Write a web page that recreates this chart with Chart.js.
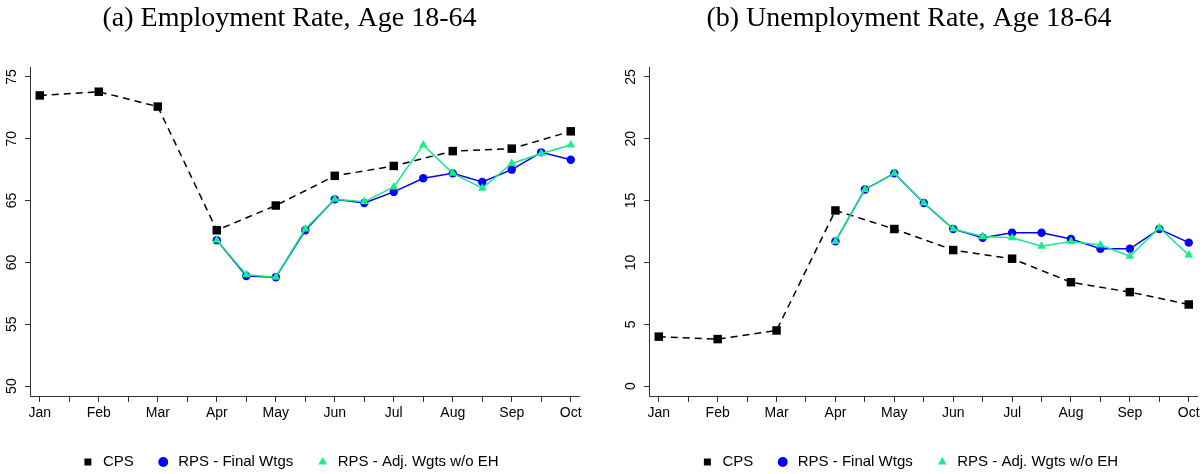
<!DOCTYPE html>
<html lang="en">
<head>
    <meta charset="UTF-8">
    <title>Employment and Unemployment Rate, Age 18-64</title>
    <style>
        body {
            margin: 0;
            background: #fff;
        }

        .panel {
            position: absolute;
            top: 0;
            height: 474px;
        }

        #left { left: 0; width: 600px; }
        #right { left: 619px; width: 584px; }
    </style>
    <script src="https://cdn.jsdelivr.net/npm/chart.js"></script>
</head>
<body>
    <div class="panel" id="left"><canvas id="empChart"></canvas></div>
    <div class="panel" id="right"><canvas id="unempChart"></canvas></div>

    <script>
        // months on the x axis (1 = Jan ... 10 = Oct)
        const months = ['Jan', 'Feb', 'Mar', 'Apr', 'May', 'Jun', 'Jul', 'Aug', 'Sep', 'Oct'];
        const cpsX = [1, 2, 3, 4, 5, 6, 7, 8, 9, 10];
        // RPS waves: start and middle of each month, Apr to Oct
        const rpsX = [4, 4.5, 5, 5.5, 6, 6.5, 7, 7.5, 8, 8.5, 9, 9.5, 10];
        const xTicks = [1, 1.5, 2, 2.5, 3, 3.5, 4, 4.5, 5, 5.5, 6, 6.5, 7, 7.5, 8, 8.5, 9, 9.5, 10];

        // (a) employment rate
        const empCps = [73.5, 73.8, 72.6, 62.6, 64.6, 67.0, 67.8, 69.0, 69.2, 70.6];
        const empRpsFinal = [61.8, 58.9, 58.8, 62.6, 65.1, 64.8, 65.7, 66.8, 67.2, 66.5, 67.5, 68.9, 68.3];
        const empRpsAdj = [61.8, 59.0, 58.8, 62.7, 65.1, 64.9, 66.1, 69.5, 67.2, 66.0, 68.0, 68.8, 69.5];
        const empTicks = [50, 55, 60, 65, 70, 75];

        // (b) unemployment rate
        const unempCps = [4.0, 3.8, 4.5, 14.2, 12.7, 11.0, 10.3, 8.4, 7.6, 6.6];
        const unempRpsFinal = [11.7, 15.9, 17.2, 14.8, 12.7, 12.0, 12.4, 12.4, 11.9, 11.1, 11.1, 12.7, 11.6];
        const unempRpsAdj = [11.7, 15.9, 17.2, 14.8, 12.7, 12.1, 12.0, 11.3, 11.7, 11.4, 10.5, 12.8, 10.6];
        const unempTicks = [0, 5, 10, 15, 20, 25];

        const axisColor = '#333';
        const sans = 'Liberation Sans, Arial, Helvetica, sans-serif';

        function toPoints(xs, ys) {
            return ys.map((y, i) => ({ x: xs[i], y: y }));
        }

        function makeChart(canvasId, title, cps, rpsFinal, rpsAdj, yTicks, padRight) {
            const ctx = document.getElementById(canvasId).getContext('2d');
            const step = yTicks[1] - yTicks[0];
            return new Chart(ctx, {
                type: 'line',
                data: {
                    datasets: [{
                        label: 'CPS',
                        data: toPoints(cpsX, cps),
                        borderColor: '#000',
                        backgroundColor: '#000',
                        borderWidth: 1.5,
                        borderDash: [7, 5],
                        pointStyle: 'rect',
                        pointRadius: 6,
                        pointBorderWidth: 0,
                        order: 2
                    }, {
                        label: 'RPS - Final Wtgs',
                        data: toPoints(rpsX, rpsFinal),
                        borderColor: '#0000ff',
                        backgroundColor: '#0000ff',
                        borderWidth: 1.5,
                        pointStyle: 'circle',
                        pointRadius: 4.2,
                        pointBorderWidth: 0,
                        order: 1
                    }, {
                        label: 'RPS - Adj. Wgts w/o EH',
                        data: toPoints(rpsX, rpsAdj),
                        borderColor: '#14e884',
                        backgroundColor: '#14f088',
                        borderWidth: 1.5,
                        pointStyle: 'triangle',
                        pointRadius: 5,
                        pointBorderWidth: 0,
                        order: 0
                    }]
                },
                options: {
                    responsive: true,
                    maintainAspectRatio: false,
                    animation: false,
                    layout: {
                        padding: { top: 0, left: 0, right: padRight, bottom: -5.5 }
                    },
                    plugins: {
                        title: {
                            display: true,
                            text: title,
                            color: '#000',
                            font: { family: 'Liberation Serif, Times New Roman, serif', size: 28, weight: 'normal' },
                            padding: { top: 2, bottom: 31.4 }
                        },
                        legend: {
                            position: 'bottom',
                            labels: {
                                usePointStyle: true,
                                boxHeight: 7,
                                padding: 22,
                                color: '#000',
                                font: { family: sans, size: 15 },
                                sort: (a, b) => a.datasetIndex - b.datasetIndex
                            }
                        },
                        tooltip: { enabled: false }
                    },
                    scales: {
                        x: {
                            type: 'linear',
                            min: 0.834,
                            max: 10.14,
                            afterBuildTicks: scale => {
                                scale.ticks = xTicks.map(v => ({ value: v }));
                            },
                            afterFit: scale => { scale.height = 36.5; },
                            ticks: {
                                autoSkip: false,
                                maxRotation: 0,
                                padding: 3,
                                color: '#000',
                                font: { family: sans, size: 14 },
                                callback: v => Number.isInteger(v) ? months[v - 1] : ''
                            },
                            grid: {
                                drawOnChartArea: false,
                                drawTicks: true,
                                tickLength: 6,
                                color: axisColor
                            },
                            border: { display: true, color: axisColor, width: 1 }
                        },
                        y: {
                            min: yTicks[0] - step * 0.16,
                            max: yTicks[yTicks.length - 1] + step * 0.16,
                            afterBuildTicks: scale => {
                                scale.ticks = yTicks.map(v => ({ value: v }));
                            },
                            afterFit: scale => { scale.width = 30; },
                            ticks: {
                                minRotation: 90,
                                maxRotation: 90,
                                crossAlign: 'center',
                                padding: 5,
                                color: '#000',
                                font: { family: sans, size: 14 }
                            },
                            grid: {
                                drawOnChartArea: false,
                                drawTicks: true,
                                tickLength: 5,
                                color: axisColor
                            },
                            border: { display: true, color: axisColor, width: 1 }
                        }
                    }
                }
            });
        }

        makeChart('empChart', '(a) Employment Rate, Age 18-64',
            empCps, empRpsFinal, empRpsAdj, empTicks, 21);
        makeChart('unempChart', '(b) Unemployment Rate, Age 18-64',
            unempCps, unempRpsFinal, unempRpsAdj, unempTicks, 4);
    </script>
</body>
</html>
